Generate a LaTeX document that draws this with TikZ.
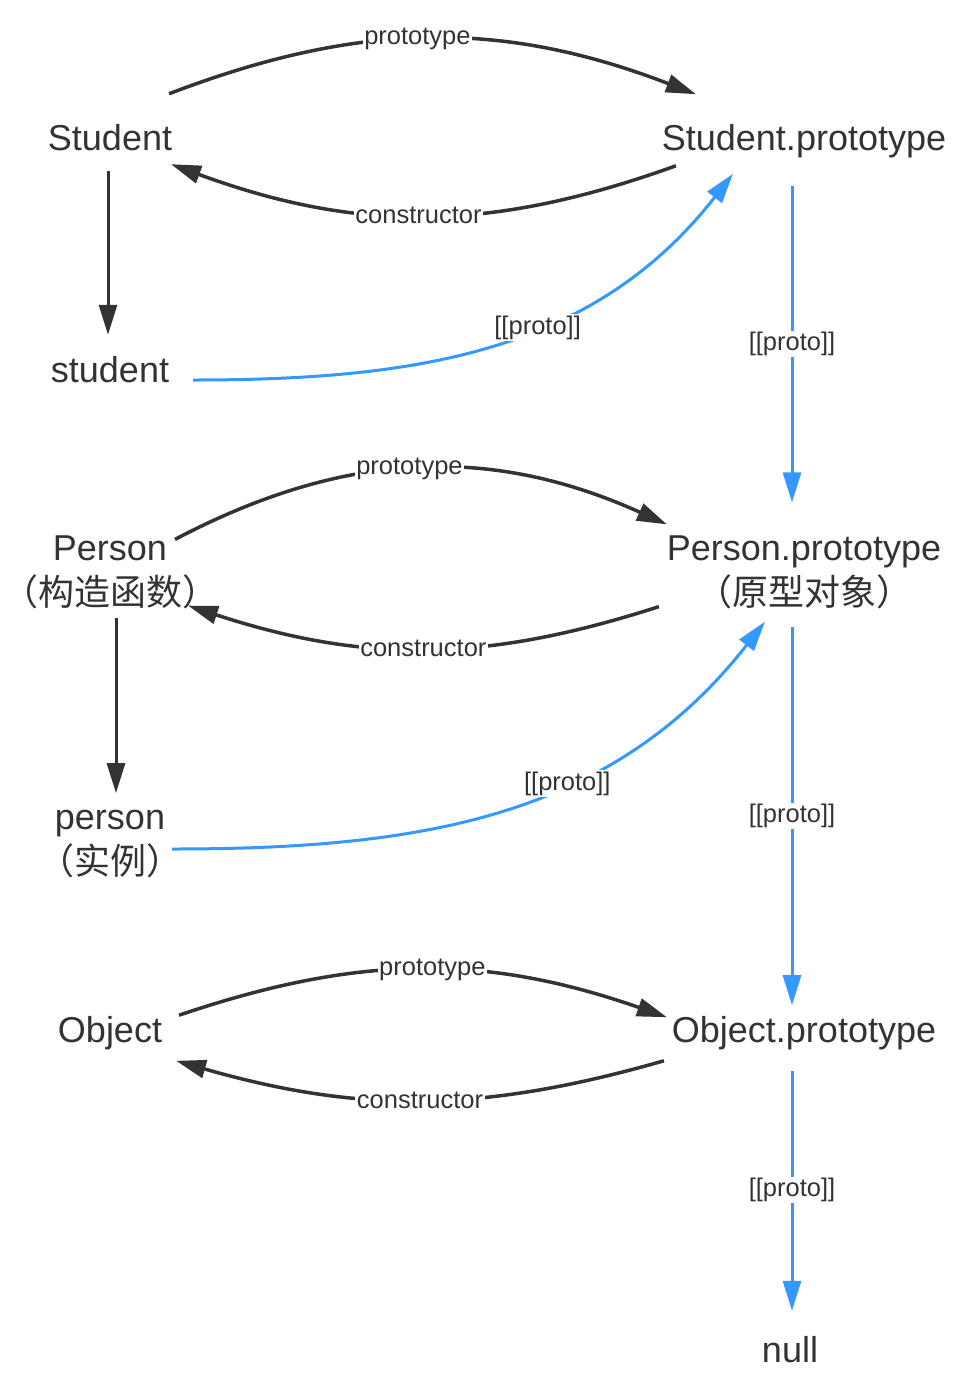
\documentclass[tikz,border=0pt]{standalone}
\usepackage{fontspec}
\setmainfont{Liberation Sans}
\newfontfamily\cjk{Noto Sans CJK SC}
\usepackage{xcolor}
\usepackage{tikz}
\usetikzlibrary{arrows.meta,positioning}
\definecolor{inkgray}{HTML}{333333}
\definecolor{protoblue}{HTML}{3399FF}
\tikzset{
	obj/.style={inner sep=0pt,outer sep=0pt,align=center,text=inkgray,font=\fontsize{36}{45}\selectfont},
	lbl/.style={fill=white,inner sep=1.5pt,text=inkgray,font=\fontsize{25.5}{25.5}\selectfont},
	link/.style={inkgray,line width=3.5pt,-{Triangle[length=30pt,width=18pt]}},
	down/.style={inkgray,line width=3pt,-{Triangle[length=30pt,width=18pt]}},
	protolink/.style={protoblue,line width=3pt,-{Triangle[length=30pt,width=18pt]}}
}
\begin{document}
\begin{tikzpicture}[x=1pt,y=-1pt]
		\useasboundingbox (0,0) rectangle (962,1398);
		\node[obj] (Student) at (110,138) {Student};
		\node[obj] (StudentProto) at (804,141) {Student.prototype};
		\node[obj] (student) at (110,370) {student};
		\node[obj] (Person) at (110,572) {Person\\{\cjk （构造函数）}};
		\node[obj] (PersonProto) at (804,572) {Person.prototype\\{\cjk （原型对象）}};
		\node[obj] (person) at (110,844) {person\\{\cjk （实例）}};
		\node[obj] (Object) at (110,1033) {Object};
		\node[obj] (ObjectProto) at (804,1033) {Object.prototype};
		\node[obj] (null) at (790,1350) {null};
		\draw[link] ([xshift=-3pt,yshift=31pt]Student.north east) to[bend left=21] node[lbl,pos=0.47] {prototype} ([xshift=34pt,yshift=30pt]StudentProto.north west);
		\draw[link] ([xshift=14pt,yshift=-8pt]StudentProto.south west) to[bend left=20] node[lbl,pos=0.51] {constructor} ([xshift=-1pt,yshift=-13pt]Student.south east);
		\draw[down,shorten <=20pt,shorten >=22pt] ([xshift=-2pt]Student.south) -- ([xshift=-2pt]student.north);
		\draw[protolink] ([xshift=24pt,yshift=-10pt]student.east) to[out=0,in=-128] node[lbl,pos=0.58] {[[proto]]} ([xshift=-71pt,yshift=-16pt]StudentProto.south);
		\draw[protolink] ([xshift=-12pt,yshift=-28pt]StudentProto.south) -- node[lbl] {[[proto]]} ([xshift=-12pt,yshift=33pt]PersonProto.north);
		\draw[link] ([xshift=-43pt,yshift=-4pt]Person.north east) to[bend left=26] node[lbl,pos=0.48] {prototype} ([yshift=11pt]PersonProto.north west);
		\draw[link] ([xshift=-8pt,yshift=2pt]PersonProto.south west) to[bend left=18] node[lbl] {constructor} ([xshift=-30pt,yshift=3pt]Person.south east);
		\draw[down,shorten <=9pt,shorten >=17pt] ([xshift=6pt]Person.south) -- ([xshift=6pt]person.north);
		\draw[protolink] ([xshift=-10pt,yshift=-5pt]person.east) to[out=0,in=-128] node[lbl,pos=0.61] {[[proto]]} ([xshift=-39pt,yshift=-13pt]PersonProto.south);
		\draw[protolink] ([xshift=-12pt,yshift=-18pt]PersonProto.south) -- node[lbl] {[[proto]]} ([xshift=-12pt,yshift=11pt]ObjectProto.north);
		\draw[link] ([xshift=17pt,yshift=1pt]Object.north east) to[bend left=19] node[lbl,pos=0.52] {prototype} ([xshift=-5pt,yshift=-1pt]ObjectProto.north west);
		\draw[link] ([xshift=-8pt,yshift=-11pt]ObjectProto.south west) to[bend left=16] node[lbl] {constructor} ([xshift=14pt,yshift=-11pt]Object.south east);
		\draw[protolink,shorten <=21pt,shorten >=26pt] ([xshift=-12pt]ObjectProto.south) -- ([xshift=2pt]null.north);
		\node[lbl] (nullproto) at (792,1190) {[[proto]]};
	\end{tikzpicture}
\end{document}
